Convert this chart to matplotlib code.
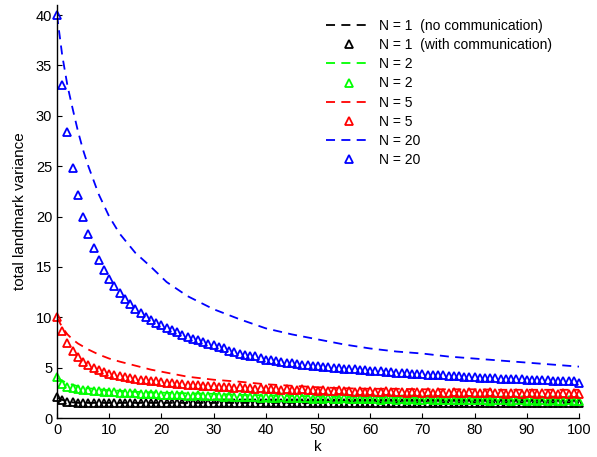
import numpy as np
import matplotlib
matplotlib.use("Agg")
import matplotlib.pyplot as plt

plt.rcParams['font.family'] = ['Liberation Sans', 'DejaVu Sans']

# iterations
k = np.arange(0, 101)

# with communication (triangles), one value per k
tri_n20 = [40.0, 33.1, 28.4, 24.8, 22.1, 20.0, 18.3, 16.9, 15.7, 14.7,
           13.8, 13.1, 12.4, 11.8, 11.3, 10.8, 10.4, 10.0, 9.7, 9.4,
           9.2, 8.9, 8.7, 8.5, 8.2, 8.0, 7.8, 7.7, 7.5, 7.3,
           7.2, 7.0, 6.9, 6.7, 6.6, 6.4, 6.3, 6.2, 6.2, 6.0,
           5.8, 5.8, 5.7, 5.6, 5.5, 5.5, 5.4, 5.3, 5.3, 5.2,
           5.2, 5.1, 5.1, 5.0, 5.0, 4.9, 4.9, 4.9, 4.8, 4.8,
           4.7, 4.7, 4.7, 4.6, 4.6, 4.5, 4.5, 4.5, 4.4, 4.4,
           4.4, 4.3, 4.3, 4.3, 4.3, 4.2, 4.2, 4.2, 4.1, 4.1,
           4.1, 4.0, 4.0, 4.0, 4.0, 3.9, 3.9, 3.9, 3.9, 3.9,
           3.8, 3.8, 3.8, 3.8, 3.8, 3.7, 3.7, 3.7, 3.7, 3.7,
           3.5]
tri_n5 = [10.0, 8.6, 7.4, 6.7, 6.1, 5.6, 5.3, 5.0, 4.8, 4.6,
          4.4, 4.3, 4.2, 4.1, 4.0, 3.9, 3.8, 3.8, 3.7, 3.7,
          3.6, 3.5, 3.5, 3.4, 3.4, 3.3, 3.3, 3.3, 3.2, 3.2,
          3.2, 3.1, 3.1, 3.1, 3.0, 3.1, 3.0, 3.0, 2.9, 3.0,
          2.9, 2.9, 2.9, 2.8, 2.9, 2.8, 2.8, 2.9, 2.8, 2.8,
          2.7, 2.8, 2.7, 2.7, 2.8, 2.7, 2.7, 2.6, 2.7, 2.6,
          2.7, 2.6, 2.6, 2.7, 2.6, 2.6, 2.6, 2.5, 2.6, 2.6,
          2.5, 2.6, 2.5, 2.6, 2.5, 2.5, 2.6, 2.5, 2.5, 2.6,
          2.5, 2.5, 2.5, 2.6, 2.5, 2.5, 2.4, 2.5, 2.5, 2.4,
          2.5, 2.5, 2.4, 2.5, 2.4, 2.5, 2.4, 2.5, 2.4, 2.5,
          2.4]
tri_n2 = [4.05, 3.4, 3.05, 3.0, 2.9, 2.8, 2.8, 2.7, 2.7, 2.6,
          2.6, 2.6, 2.5, 2.5, 2.5, 2.5, 2.4, 2.4, 2.4, 2.4,
          2.3, 2.3, 2.3, 2.3, 2.3, 2.2, 2.2, 2.3, 2.2, 2.2,
          2.2, 2.2, 2.1, 2.2, 2.1, 2.1, 2.1, 2.1, 2.1, 2.0,
          2.1, 2.0, 2.0, 2.1, 2.0, 2.0, 2.0, 2.0, 2.0, 1.9,
          2.0, 1.9, 2.0, 1.9, 1.9, 2.0, 1.9, 1.9, 1.9, 1.9,
          1.9, 1.9, 1.8, 1.9, 1.9, 1.8, 1.9, 1.8, 1.9, 1.8,
          1.8, 1.9, 1.8, 1.8, 1.8, 1.8, 1.8, 1.8, 1.8, 1.8,
          1.8, 1.8, 1.8, 1.7, 1.8, 1.8, 1.8, 1.7, 1.8, 1.8,
          1.7, 1.8, 1.7, 1.8, 1.7, 1.8, 1.7, 1.7, 1.8, 1.7,
          1.7]
tri_n1 = [2.05, 1.75, 1.6, 1.55, 1.5, 1.5, 1.5, 1.5, 1.5, 1.5,
          1.5, 1.5, 1.5, 1.5, 1.5, 1.5, 1.5, 1.5, 1.5, 1.5,
          1.5, 1.5, 1.5, 1.5, 1.5, 1.5, 1.5, 1.5, 1.5, 1.5,
          1.5, 1.5, 1.5, 1.5, 1.5, 1.5, 1.5, 1.5, 1.5, 1.5,
          1.5, 1.5, 1.5, 1.5, 1.5, 1.5, 1.5, 1.5, 1.5, 1.5,
          1.5, 1.5, 1.5, 1.5, 1.5, 1.5, 1.5, 1.5, 1.5, 1.5,
          1.5, 1.5, 1.5, 1.5, 1.5, 1.5, 1.5, 1.5, 1.5, 1.5,
          1.5, 1.5, 1.5, 1.5, 1.5, 1.5, 1.5, 1.5, 1.5, 1.5,
          1.5, 1.5, 1.5, 1.5, 1.5, 1.5, 1.5, 1.5, 1.5, 1.5,
          1.5, 1.5, 1.5, 1.5, 1.5, 1.5, 1.5, 1.5, 1.5, 1.5,
          1.5]

# no communication (dashed lines)
k_dash = [0, 1, 2, 3, 4, 5, 6, 8, 10, 12, 15, 18, 21, 25, 30, 35, 40,
          45, 50, 55, 60, 65, 70, 75, 80, 85, 90, 95, 100]
dash_n20 = [40.0, 36.0, 33.0, 30.7, 28.5, 26.6, 25.0, 22.2, 20.0, 18.3,
            16.4, 15.0, 13.5, 12.1, 10.8, 9.8, 8.9, 8.3, 7.8, 7.3,
            6.9, 6.6, 6.4, 6.1, 5.9, 5.7, 5.5, 5.3, 5.1]
dash_n5 = [10.0, 9.0, 8.3, 7.8, 7.4, 7.1, 6.8, 6.3, 5.9, 5.6,
           5.2, 4.8, 4.5, 4.1, 3.8, 3.6, 3.35, 3.2, 3.05, 2.95,
           2.9, 2.9, 2.85, 2.85, 2.85, 2.8, 2.8, 2.8, 2.8]
dash_n2 = [4.0, 3.7, 3.45, 3.3, 3.15, 3.0, 2.95, 2.85, 2.75, 2.7,
           2.6, 2.55, 2.5, 2.45, 2.4, 2.3, 2.25, 2.2, 2.15, 2.1,
           2.1, 2.05, 2.05, 2.0, 2.0, 2.0, 2.0, 2.0, 2.0]
dash_n1 = [2.0, 1.8, 1.65, 1.55, 1.5, 1.5, 1.5, 1.5, 1.5, 1.5,
           1.5, 1.5, 1.5, 1.5, 1.5, 1.5, 1.5, 1.5, 1.5, 1.5,
           1.5, 1.5, 1.5, 1.5, 1.5, 1.5, 1.5, 1.5, 1.5]

series = [
    ('N = 1  (no communication)', 'N = 1  (with communication)', 'k', dash_n1, tri_n1),
    ('N = 2', 'N = 2', '#00ff00', dash_n2, tri_n2),
    ('N = 5', 'N = 5', 'r', dash_n5, tri_n5),
    ('N = 20', 'N = 20', 'b', dash_n20, tri_n20),
]

fig = plt.figure(figsize=(5.97, 4.57), dpi=100)
ax = fig.add_axes([57 / 597, 39 / 457, 522 / 597, 413 / 457])

for lab_d, lab_t, c, yd, yt in series:
    ax.plot(k_dash, yd, color=c, lw=1.3, dashes=(5, 3.5), label=lab_d)
    ax.plot(k, yt, ls='none', marker='^', ms=6, mfc='none', mec=c,
            mew=1.3, color=c, label=lab_t, clip_on=False)

ax.set_xlim(0, 100)
ax.set_ylim(0, 41)
ax.set_xticks(range(0, 101, 10))
ax.set_yticks(range(0, 41, 5))
ax.spines['top'].set_visible(False)
ax.spines['right'].set_visible(False)
for s in ('left', 'bottom'):
    ax.spines[s].set_linewidth(1.0)
ax.tick_params(direction='in', length=3.5, labelsize=10.5, width=0.8)
ax.set_xlabel('k', fontsize=11, labelpad=2)
ax.set_ylabel('total landmark variance', fontsize=11, labelpad=6)

ax.legend(loc='upper left', bbox_to_anchor=(326 / 597, 1 - 19 / 457),
          bbox_transform=fig.transFigure, frameon=False, fontsize=10,
          handlelength=3.3, handletextpad=0.5, labelspacing=0.37,
          borderpad=0, borderaxespad=0)

fig.savefig('out.png', dpi=100)
